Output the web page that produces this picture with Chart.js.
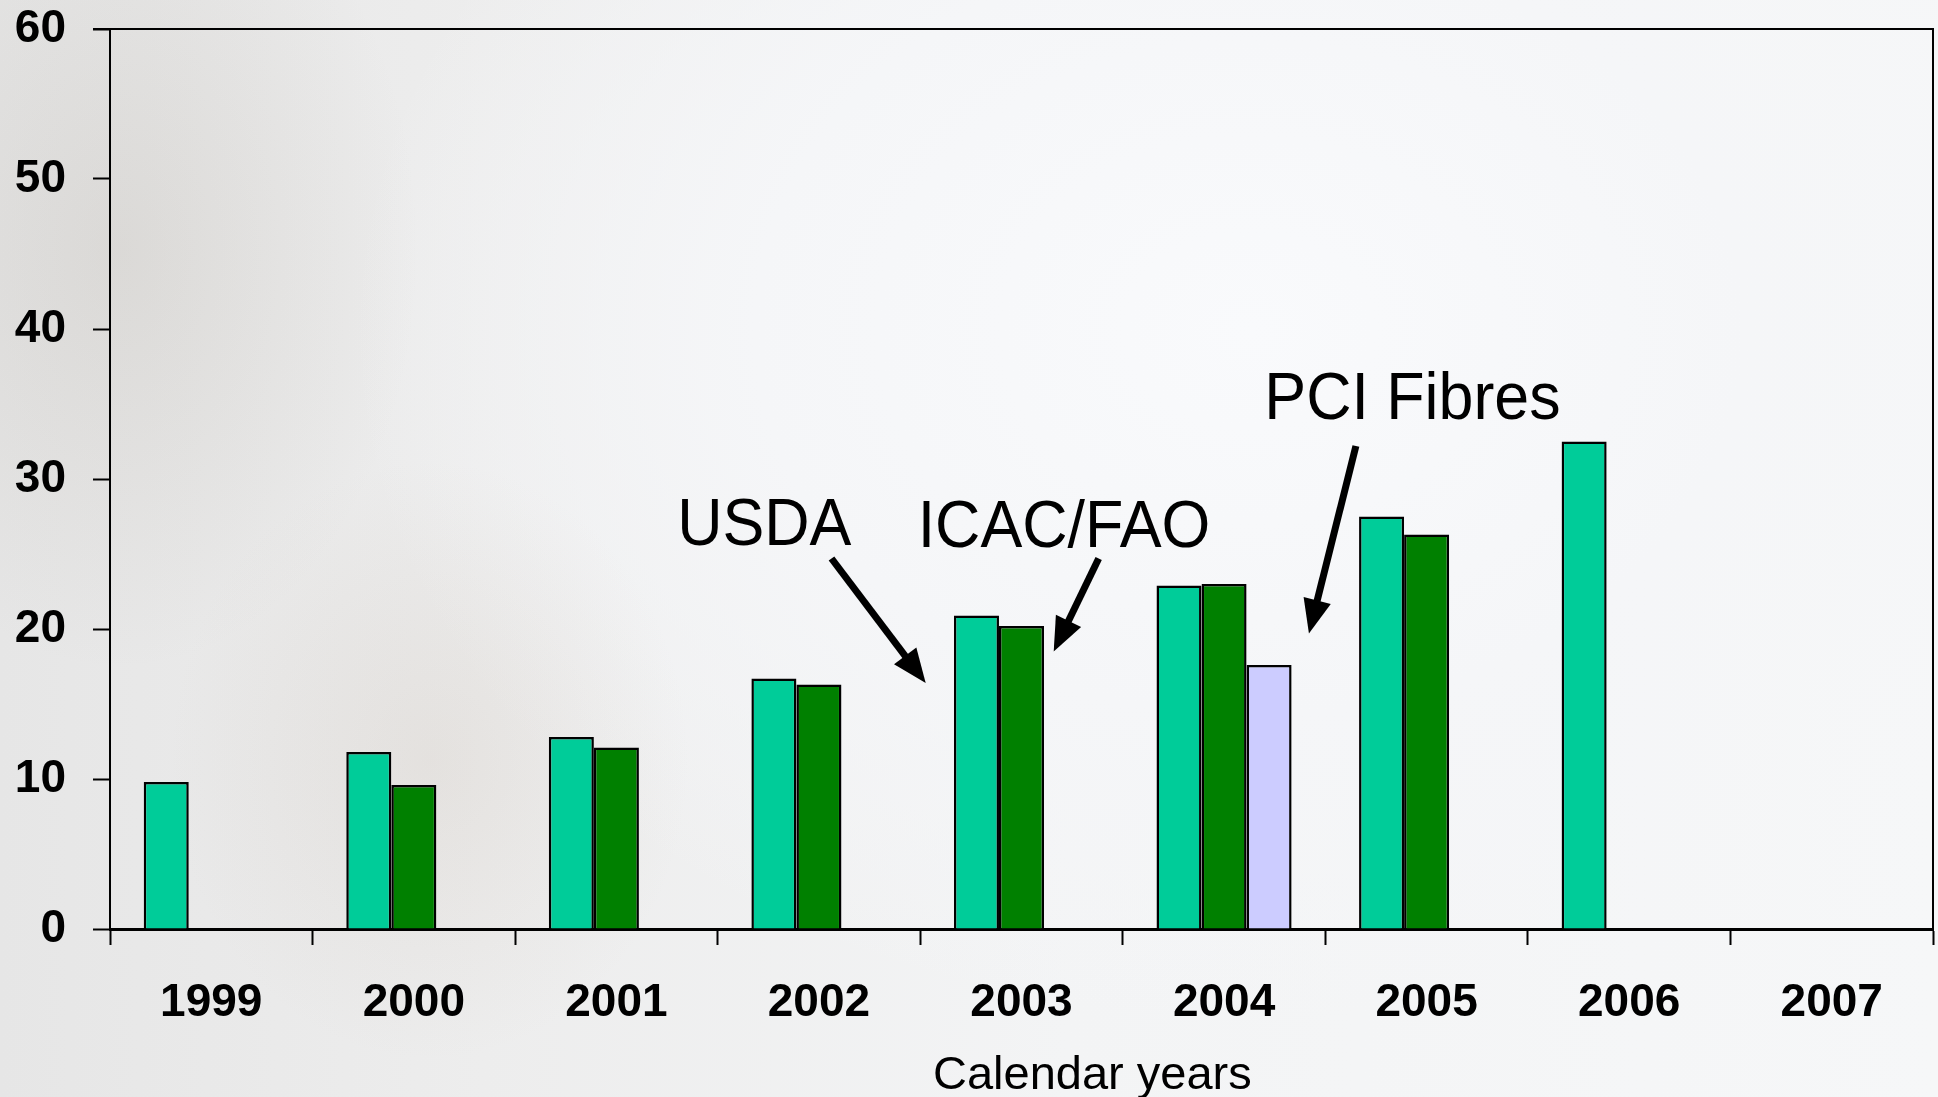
<!DOCTYPE html>
<html><head><meta charset="utf-8">
<script src="https://cdn.jsdelivr.net/npm/chart.js@4.4.1/dist/chart.umd.min.js"></script>
<style>
html,body{margin:0;padding:0;width:1938px;height:1097px;overflow:hidden;}
body{
  background:
    radial-gradient(ellipse 260px 300px at 430px 760px, rgba(190,175,160,0.18) 0%, rgba(190,175,160,0) 100%),
    radial-gradient(ellipse 300px 420px at 120px 250px, rgba(150,140,125,0.16) 0%, rgba(150,140,125,0) 100%),
    radial-gradient(ellipse 900px 700px at 1250px 330px, #f9fafc 0%, #f5f6f8 55%, rgba(240,240,240,0) 100%),
    linear-gradient(90deg, #e6e6e6 0%, #ededed 25%, #f3f4f5 55%, #f6f7f8 100%);
}
#wrap{position:absolute;left:0;top:0;width:1938px;height:1097px;}
</style></head><body>
<div id="wrap"><canvas id="c" width="1938" height="1097"></canvas></div>
<script>
// ---- data ----
const years = ['1999','2000','2001','2002','2003','2004','2005','2006','2007'];
const usda      = [9.8, 11.8, 12.8, 16.7, 20.9, 22.9, 27.5, 32.5, null];
const icacFao   = [null, 9.6, 12.1, 16.3, 20.2, 23.0, 26.3, null, null];
const pciFibres = [null, null, null, null, null, 17.6, null, null, null];
const seriesNames = ['USDA', 'ICAC/FAO', 'PCI Fibres'];
const yMin = 0, yMax = 60, yStep = 10;
const axisTitle = 'Calendar years';

// ---- annotation placement (in data units: category index, value) ----
const labelSpots = [
  {text: seriesNames[0], x: 2.73, y: 26.8},
  {text: seriesNames[1], x: 4.21, y: 26.7},
  {text: seriesNames[2], x: 5.93, y: 35.2}
];
const arrowSpots = [
  {x0: 3.062, y0: 24.7, x1: 3.527, y1: 16.4},
  {x0: 4.381, y0: 24.7, x1: 4.159, y1: 18.5},
  {x0: 5.651, y0: 32.2, x1: 5.419, y1: 19.7}
];

const tickFont = {family: '"Liberation Sans", Arial, sans-serif', size: 46, weight: 'bold'};

const annotPlugin = {
  id: 'annot',
  afterDraw(chart) {
    const ctx = chart.ctx, xs = chart.scales.x, ys = chart.scales.y, a = chart.chartArea;
    ctx.save();
    // top & right frame
    ctx.strokeStyle = '#000'; ctx.lineWidth = 2;
    ctx.beginPath();
    ctx.moveTo(a.left - 17, a.top); ctx.lineTo(a.right, a.top); ctx.lineTo(a.right, a.bottom);
    ctx.stroke();
    // labels
    ctx.fillStyle = '#000';
    ctx.font = '64px "Liberation Sans", Arial, sans-serif';
    ctx.textAlign = 'center'; ctx.textBaseline = 'middle';
    labelSpots.forEach(l => {
      const px = xs.getPixelForValue(l.x), py = ys.getPixelForValue(l.y);
      ctx.save(); ctx.translate(px, py); ctx.scale(0.98, 1.04);
      ctx.fillText(l.text, 0, 0); ctx.restore();
    });
    // arrows
    arrowSpots.forEach(r => {
      const x0 = xs.getPixelForValue(r.x0), y0 = ys.getPixelForValue(r.y0);
      const x1 = xs.getPixelForValue(r.x1), y1 = ys.getPixelForValue(r.y1);
      const ang = Math.atan2(y1 - y0, x1 - x0);
      const headLen = 34, headHalf = 14;
      const bx = x1 - headLen * Math.cos(ang), by = y1 - headLen * Math.sin(ang);
      ctx.strokeStyle = '#000'; ctx.lineWidth = 7; ctx.lineCap = 'butt';
      ctx.beginPath(); ctx.moveTo(x0, y0); ctx.lineTo(bx + 4*Math.cos(ang), by + 4*Math.sin(ang)); ctx.stroke();
      ctx.beginPath();
      ctx.moveTo(x1, y1);
      ctx.lineTo(bx + headHalf * Math.sin(ang), by - headHalf * Math.cos(ang));
      ctx.lineTo(bx - headHalf * Math.sin(ang), by + headHalf * Math.cos(ang));
      ctx.closePath(); ctx.fill();
    });
    // axis title
    ctx.font = '47px "Liberation Sans", Arial, sans-serif';
    ctx.textAlign = 'center'; ctx.textBaseline = 'alphabetic';
    ctx.fillText(axisTitle, xs.getPixelForValue(4.35), a.bottom + 160);
    ctx.restore();
  }
};

new Chart(document.getElementById('c'), {
  type: 'bar',
  data: {
    labels: years,
    datasets: [
      {label: seriesNames[0], data: usda, backgroundColor: '#00CC99', borderColor: '#000', borderWidth: 2.5},
      {label: seriesNames[1], data: icacFao, backgroundColor: '#008000', borderColor: '#000', borderWidth: 2.5},
      {label: seriesNames[2], data: pciFibres, backgroundColor: '#CCCCFF', borderColor: '#000', borderWidth: 2.5}
    ]
  },
  options: {
    responsive: false, animation: false, devicePixelRatio: 1,
    layout: {padding: {top: 29, right: 5, left: 0, bottom: 0}},
    datasets: {bar: {barPercentage: 1.0, categoryPercentage: 0.667, borderSkipped: 'bottom'}},
    plugins: {legend: {display: false}, tooltip: {enabled: false}},
    scales: {
      x: {
        grid: {display: true, drawOnChartArea: false, drawTicks: true, tickLength: 16, tickWidth: 2, tickColor: '#000', offset: true},
        border: {display: true, color: '#000', width: 3},
        ticks: {color: '#000', font: tickFont, padding: 31, maxRotation: 0, autoSkip: false},
        afterFit(s) { s.height = 168; s.paddingLeft = 0; s.paddingRight = 0; }
      },
      y: {
        min: yMin, max: yMax,
        grid: {display: true, drawOnChartArea: false, drawTicks: true, tickLength: 17, tickWidth: 2, tickColor: '#000'},
        border: {display: true, color: '#000', width: 2},
        ticks: {color: '#000', font: tickFont, padding: 27, stepSize: yStep},
        afterFit(s) { s.width = 110; s.paddingTop = 0; s.paddingBottom = 0; }
      }
    }
  },
  plugins: [annotPlugin]
});
</script>
</body></html>
